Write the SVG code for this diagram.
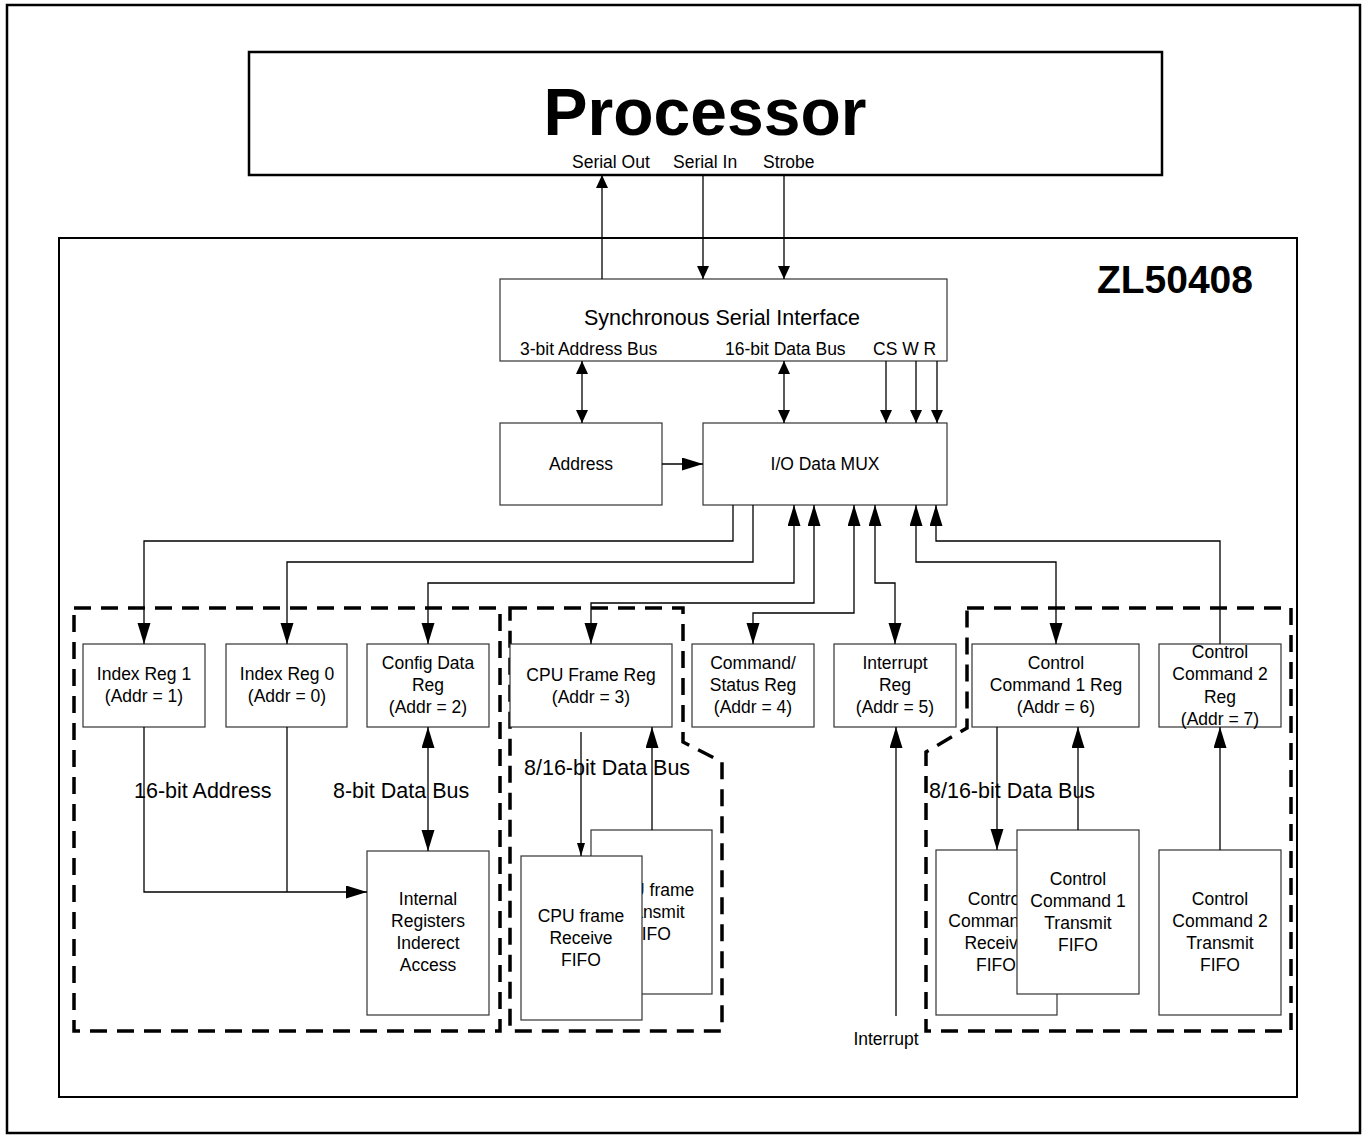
<svg xmlns="http://www.w3.org/2000/svg" width="1367" height="1139" viewBox="0 0 1367 1139">
<defs>
<style>
text{font-family:"Liberation Sans",Arial,sans-serif;fill:#000}
.lbl{font-size:17.5px;text-anchor:middle}
.sm{font-size:17.5px}
.big{font-size:21.5px}
.box{fill:#fff;stroke:#333;stroke-width:1.2}
.c{fill:none;stroke:#000;stroke-width:1.3}
.dash{fill:none;stroke:#000;stroke-width:3.5;stroke-dasharray:17 10}
</style>
<marker id="aL" markerUnits="userSpaceOnUse" markerWidth="22" markerHeight="14" refX="21" refY="6.5" orient="auto-start-reverse"><path d="M0,0 L21,6.5 L0,13 z" fill="#000"/></marker>
<marker id="aS" markerUnits="userSpaceOnUse" markerWidth="14" markerHeight="13" refX="13" refY="6" orient="auto-start-reverse"><path d="M0,0 L13,6 L0,12 z" fill="#000"/></marker>
<marker id="aT" markerUnits="userSpaceOnUse" markerWidth="14" markerHeight="9" refX="13" refY="4" orient="auto-start-reverse"><path d="M0,0 L13,4 L0,8 z" fill="#000"/></marker>
</defs>
<rect x="0" y="0" width="1367" height="1139" fill="#fff"/>
<rect id="frame" x="7" y="5" width="1353" height="1128" fill="none" stroke="#000" stroke-width="2.5"/>

<g id="processor">
<rect x="249" y="52" width="913" height="123" fill="#fff" stroke="#000" stroke-width="2.5"/>
<text x="705" y="135" text-anchor="middle" font-size="66" font-weight="bold">Processor</text>
<text class="sm" x="572" y="168">Serial Out</text>
<text class="sm" x="673" y="168">Serial In</text>
<text class="sm" x="763" y="168">Strobe</text>
</g>

<g id="zl50408">
<rect x="59" y="238" width="1238" height="859" fill="none" stroke="#000" stroke-width="2"/>
<text x="1253" y="293" text-anchor="end" font-size="39" font-weight="bold">ZL50408</text>
</g>

<g id="regions">
<path class="dash" d="M74,608 H500 V1031 H74 Z"/>
<path class="dash" d="M510,608 H683 V742 L722,762 V1031 H510 Z"/>
<path class="dash" d="M967,608 H1291 V1031 H926 V752 L967,728 Z"/>
</g>

<g id="ssi">
<rect class="box" x="500" y="279" width="447" height="82"/>
<text class="big" x="722" y="325" text-anchor="middle">Synchronous Serial Interface</text>
<text class="sm" x="520" y="355">3-bit Address Bus</text>
<text class="sm" x="725" y="355">16-bit Data Bus</text>
<text class="sm" x="873" y="355">CS W R</text>
</g>

<g id="address">
<rect class="box" x="500" y="423" width="162" height="82"/>
<text class="lbl" x="581" y="470">Address</text>
</g>

<g id="mux">
<rect class="box" x="703" y="423" width="244" height="82"/>
<text class="lbl" x="825" y="470">I/O Data MUX</text>
</g>

<g id="index1">
<rect class="box" x="83" y="644" width="122" height="83"/>
<text class="lbl" x="144" y="680">Index Reg 1</text>
<text class="lbl" x="144" y="702">(Addr = 1)</text>
</g>
<g id="index0">
<rect class="box" x="226" y="644" width="121" height="83"/>
<text class="lbl" x="287" y="680">Index Reg 0</text>
<text class="lbl" x="287" y="702">(Addr = 0)</text>
</g>
<g id="config">
<rect class="box" x="367" y="644" width="122" height="83"/>
<text class="lbl" x="428" y="669">Config Data</text>
<text class="lbl" x="428" y="691">Reg</text>
<text class="lbl" x="428" y="713">(Addr = 2)</text>
</g>
<g id="cpuframe">
<rect class="box" x="510" y="644" width="162" height="83"/>
<text class="lbl" x="591" y="681">CPU Frame Reg</text>
<text class="lbl" x="591" y="703">(Addr = 3)</text>
</g>
<g id="cmdstatus">
<rect class="box" x="692" y="644" width="122" height="83"/>
<text class="lbl" x="753" y="669">Command/</text>
<text class="lbl" x="753" y="691">Status Reg</text>
<text class="lbl" x="753" y="713">(Addr = 4)</text>
</g>
<g id="interruptreg">
<rect class="box" x="834" y="644" width="122" height="83"/>
<text class="lbl" x="895" y="669">Interrupt</text>
<text class="lbl" x="895" y="691">Reg</text>
<text class="lbl" x="895" y="713">(Addr = 5)</text>
</g>
<g id="cc1reg">
<rect class="box" x="972" y="644" width="167" height="83"/>
<text class="lbl" x="1056" y="669">Control</text>
<text class="lbl" x="1056" y="691">Command 1 Reg</text>
<text class="lbl" x="1056" y="713">(Addr = 6)</text>
</g>
<g id="cc2reg">
<rect class="box" x="1159" y="644" width="122" height="83"/>
<text class="lbl" x="1220" y="658">Control</text>
<text class="lbl" x="1220" y="680">Command 2</text>
<text class="lbl" x="1220" y="703">Reg</text>
<text class="lbl" x="1220" y="725">(Addr = 7)</text>
</g>

<g id="internal">
<rect class="box" x="367" y="851" width="122" height="164"/>
<text class="lbl" x="428" y="905">Internal</text>
<text class="lbl" x="428" y="927">Registers</text>
<text class="lbl" x="428" y="949">Inderect</text>
<text class="lbl" x="428" y="971">Access</text>
</g>

<g id="cputx">
<rect class="box" x="591" y="830" width="121" height="164"/>
<text class="lbl" x="651" y="896">CPU frame</text>
<text class="lbl" x="651" y="918">Transmit</text>
<text class="lbl" x="651" y="940">FIFO</text>
</g>
<g id="cpurx">
<rect class="box" x="521" y="856" width="121" height="164"/>
<text class="lbl" x="581" y="922">CPU frame</text>
<text class="lbl" x="581" y="944">Receive</text>
<text class="lbl" x="581" y="966">FIFO</text>
</g>

<g id="cc1rx">
<rect class="box" x="936" y="850" width="121" height="165"/>
<text class="lbl" x="996" y="905">Control</text>
<text class="lbl" x="996" y="927">Command 1</text>
<text class="lbl" x="996" y="949">Receive</text>
<text class="lbl" x="996" y="971">FIFO</text>
</g>
<g id="cc1tx">
<rect class="box" x="1017" y="830" width="122" height="164"/>
<text class="lbl" x="1078" y="885">Control</text>
<text class="lbl" x="1078" y="907">Command 1</text>
<text class="lbl" x="1078" y="929">Transmit</text>
<text class="lbl" x="1078" y="951">FIFO</text>
</g>
<g id="cc2tx">
<rect class="box" x="1159" y="850" width="122" height="165"/>
<text class="lbl" x="1220" y="905">Control</text>
<text class="lbl" x="1220" y="927">Command 2</text>
<text class="lbl" x="1220" y="949">Transmit</text>
<text class="lbl" x="1220" y="971">FIFO</text>
</g>

<g id="labels">
<text class="big" x="134" y="798">16-bit Address</text>
<text class="big" x="333" y="798">8-bit Data Bus</text>
<text class="big" x="524" y="775">8/16-bit Data Bus</text>
<text class="big" x="929" y="798">8/16-bit Data Bus</text>
<text class="sm" x="886" y="1045" text-anchor="middle">Interrupt</text>
</g>

<g id="connectors">
<path class="c" d="M602,279 V175" marker-end="url(#aS)"/>
<path class="c" d="M703,175 V279" marker-end="url(#aS)"/>
<path class="c" d="M784,175 V279" marker-end="url(#aS)"/>
<path class="c" d="M582,361 V423" marker-start="url(#aS)" marker-end="url(#aS)"/>
<path class="c" d="M784,361 V423" marker-start="url(#aS)" marker-end="url(#aS)"/>
<path class="c" d="M886,361 V423" marker-end="url(#aS)"/>
<path class="c" d="M916,361 V423" marker-end="url(#aS)"/>
<path class="c" d="M937,361 V423" marker-end="url(#aS)"/>
<path class="c" d="M662,464 H703" marker-end="url(#aL)"/>
<path class="c" d="M733,505 V541 H144 V644" marker-end="url(#aL)"/>
<path class="c" d="M753,505 V562 H287 V644" marker-end="url(#aL)"/>
<path class="c" d="M794,505 V583 H428 V644" marker-start="url(#aL)" marker-end="url(#aL)"/>
<path class="c" d="M814,505 V603 H591 V644" marker-start="url(#aL)" marker-end="url(#aL)"/>
<path class="c" d="M854,505 V613 H753 V644" marker-start="url(#aL)" marker-end="url(#aL)"/>
<path class="c" d="M875,505 V583 H895 V644" marker-start="url(#aL)" marker-end="url(#aL)"/>
<path class="c" d="M916,505 V562 H1056 V644" marker-start="url(#aL)" marker-end="url(#aL)"/>
<path class="c" d="M936,505 V541 H1220 V644" marker-start="url(#aL)"/>
<path class="c" d="M144,727 V892 H367" marker-end="url(#aL)"/>
<path class="c" d="M287,727 V892"/>
<path class="c" d="M428,727 V851" marker-start="url(#aL)" marker-end="url(#aL)"/>
<path class="c" d="M581,732 V856" marker-end="url(#aT)"/>
<path class="c" d="M652,830 V727" marker-end="url(#aL)"/>
<path class="c" d="M896,1016 V727" marker-end="url(#aL)"/>
<path class="c" d="M997,727 V850" marker-end="url(#aL)"/>
<path class="c" d="M1078,830 V727" marker-end="url(#aL)"/>
<path class="c" d="M1220,850 V727" marker-end="url(#aL)"/>
</g>
</svg>
